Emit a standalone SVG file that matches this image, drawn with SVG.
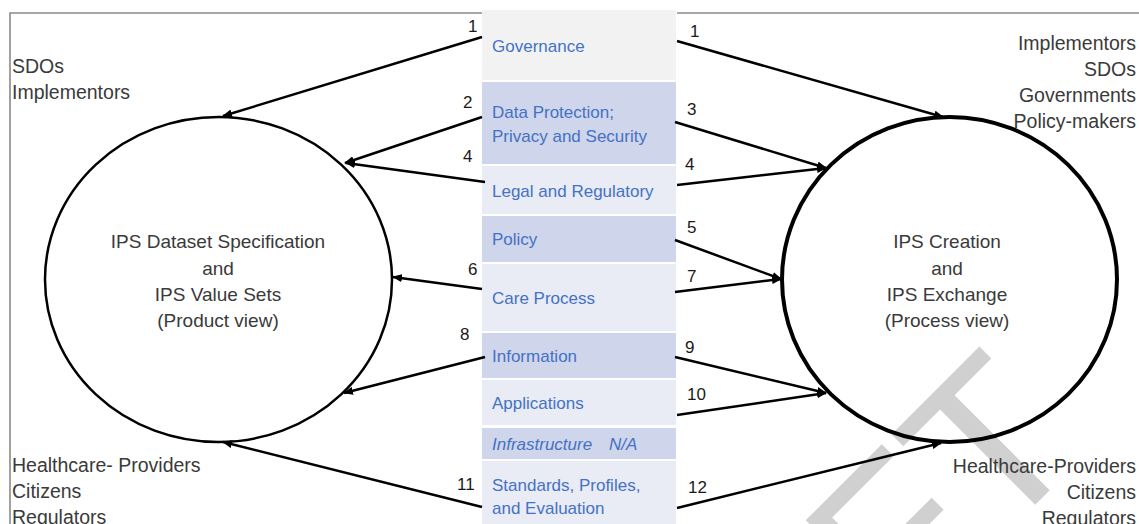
<svg xmlns="http://www.w3.org/2000/svg" width="1139" height="524" viewBox="0 0 1139 524">
<style>
.lbl{font-family:"Liberation Sans",Arial,sans-serif;font-size:17px;fill:#4472c4}
.num{font-family:"Liberation Sans",Arial,sans-serif;font-size:17px;fill:#1a1a1a}
.stk{font-family:"Liberation Sans",Arial,sans-serif;font-size:19.5px;fill:#3a3a3a}
.ctr{font-family:"Liberation Sans",Arial,sans-serif;font-size:19px;fill:#3a3a3a;text-anchor:middle}
.dk{fill:#cfd5ea}
.lt{fill:#e9ebf5}
.conn line{stroke:#000;stroke-width:2.5;marker-end:url(#ah)}
</style>
<defs>
<marker id="ah" markerUnits="userSpaceOnUse" markerWidth="10" markerHeight="8" refX="9" refY="4" orient="auto">
<path d="M0,0 L10,4 L0,8 z" fill="#000"/>
</marker>
</defs>
<rect width="1139" height="524" fill="#fff"/>
<text x="0" y="0" transform="translate(1090,450) rotate(-45)" font-family="Liberation Sans,Arial,sans-serif" font-size="220" fill="#d0d0d0" text-anchor="end">DRAFT</text>
<g id="frame" fill="none" stroke="#8a8a8a" stroke-width="1.6">
<path d="M10,524 L10,13 L482,13"/>
<path d="M677,13 L1139,13"/>
</g>
<g id="column">
<rect x="482" y="10" width="194" height="70" fill="#f2f2f2"/>
<rect class="dk" x="482" y="82" width="194" height="82"/>
<rect class="lt" x="482" y="166" width="194" height="48"/>
<rect class="dk" x="482" y="216" width="194" height="46"/>
<rect class="lt" x="482" y="264" width="194" height="67"/>
<rect class="dk" x="482" y="333" width="194" height="45"/>
<rect class="lt" x="482" y="380" width="194" height="45"/>
<rect class="dk" x="482" y="428" width="194" height="31"/>
<rect class="lt" x="482" y="461" width="194" height="63"/>
</g>
<g id="n-governance"><text class="lbl" x="492" y="52">Governance</text></g>
<g id="n-dataprotection"><text class="lbl" x="492" y="118">Data Protection;</text><text class="lbl" x="492" y="142">Privacy and Security</text></g>
<g id="n-legal"><text class="lbl" x="492" y="197">Legal and Regulatory</text></g>
<g id="n-policy"><text class="lbl" x="492" y="245">Policy</text></g>
<g id="n-care"><text class="lbl" x="492" y="304">Care Process</text></g>
<g id="n-information"><text class="lbl" x="492" y="362">Information</text></g>
<g id="n-applications"><text class="lbl" x="492" y="409">Applications</text></g>
<g id="n-infrastructure"><text class="lbl" x="492" y="450" font-style="italic">Infrastructure<tspan x="609">N/A</tspan></text></g>
<g id="n-standards"><text class="lbl" x="492" y="491">Standards, Profiles,</text><text class="lbl" x="492" y="514">and Evaluation</text></g>
<g id="n-product">
<ellipse cx="218.5" cy="279.5" rx="173.5" ry="162.5" fill="none" stroke="#000" stroke-width="2.5"/>
<text class="ctr" x="218" y="248">IPS Dataset Specification</text>
<text class="ctr" x="218" y="275">and</text>
<text class="ctr" x="218" y="301">IPS Value Sets</text>
<text class="ctr" x="218" y="327">(Product view)</text>
</g>
<g id="n-process">
<ellipse cx="949.5" cy="279.5" rx="167.5" ry="162.5" fill="none" stroke="#000" stroke-width="4"/>
<text class="ctr" x="947" y="248">IPS Creation</text>
<text class="ctr" x="947" y="275">and</text>
<text class="ctr" x="947" y="301">IPS Exchange</text>
<text class="ctr" x="947" y="327">(Process view)</text>
</g>
<g id="n-stake-tl">
<text class="stk" x="12" y="73">SDOs</text>
<text class="stk" x="12" y="99">Implementors</text>
</g>
<g id="n-stake-tr" text-anchor="end">
<text class="stk" x="1136" y="50">Implementors</text>
<text class="stk" x="1136" y="76">SDOs</text>
<text class="stk" x="1136" y="102">Governments</text>
<text class="stk" x="1136" y="128">Policy-makers</text>
</g>
<g id="n-stake-bl">
<text class="stk" x="12" y="472">Healthcare- Providers</text>
<text class="stk" x="12" y="498">Citizens</text>
<text class="stk" x="12" y="524">Regulators</text>
</g>
<g id="n-stake-br" text-anchor="end">
<text class="stk" x="1136" y="473">Healthcare-Providers</text>
<text class="stk" x="1136" y="499">Citizens</text>
<text class="stk" x="1136" y="525">Regulators</text>
</g>
<g id="connectors" class="conn">
<line x1="482" y1="37" x2="223" y2="116"/>
<line x1="482" y1="117" x2="345" y2="163"/>
<line x1="485" y1="182" x2="346" y2="163"/>
<line x1="482" y1="289" x2="393" y2="277"/>
<line x1="485" y1="357" x2="344" y2="393"/>
<line x1="482" y1="507" x2="223" y2="442"/>
<line x1="677" y1="41" x2="943" y2="117"/>
<line x1="675" y1="122" x2="826" y2="168"/>
<line x1="677" y1="185" x2="826" y2="168"/>
<line x1="675" y1="240" x2="781" y2="279"/>
<line x1="675" y1="292" x2="781" y2="279"/>
<line x1="675" y1="357" x2="826" y2="393"/>
<line x1="677" y1="415" x2="826" y2="393"/>
<line x1="677" y1="508" x2="941" y2="443"/>
</g>
<g id="labels">
<text class="num" x="468" y="32">1</text>
<text class="num" x="690" y="37">1</text>
<text class="num" x="463" y="108">2</text>
<text class="num" x="687" y="115">3</text>
<text class="num" x="463" y="162">4</text>
<text class="num" x="685" y="170">4</text>
<text class="num" x="687" y="233">5</text>
<text class="num" x="468" y="275">6</text>
<text class="num" x="687" y="282">7</text>
<text class="num" x="460" y="340">8</text>
<text class="num" x="685" y="353">9</text>
<text class="num" x="687" y="400">10</text>
<text class="num" x="457" y="490">11</text>
<text class="num" x="688" y="493">12</text>
</g>
</svg>
